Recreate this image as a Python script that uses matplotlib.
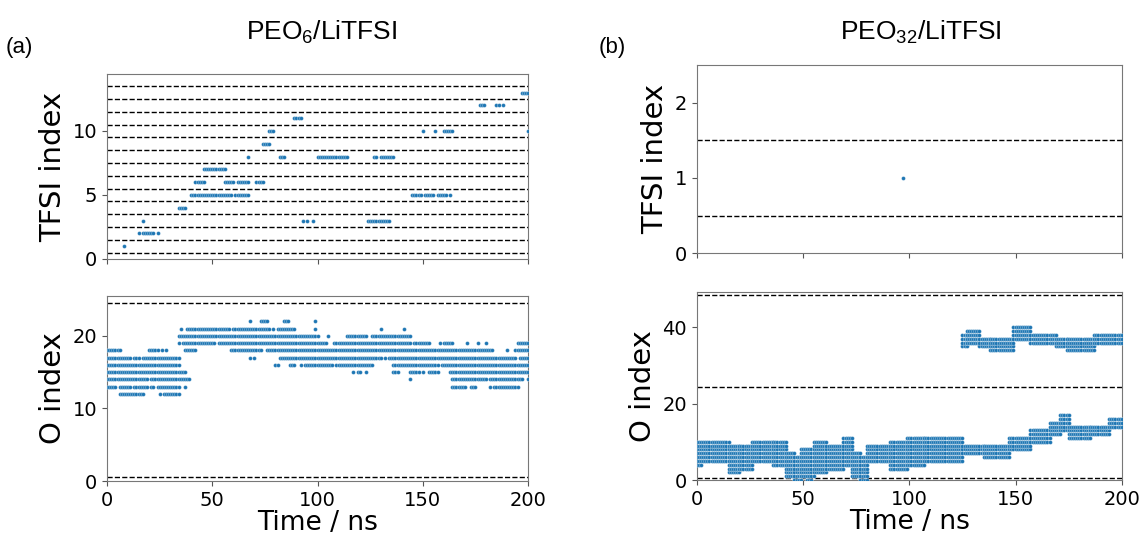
import numpy as np
import matplotlib
matplotlib.use("Agg")
import matplotlib.pyplot as plt

plt.rcParams['mathtext.fontset'] = 'custom'
plt.rcParams['mathtext.rm'] = 'Liberation Sans'
plt.rcParams['mathtext.it'] = 'Liberation Sans'

# runs: (t_start ns, t_end ns, index)
tfsi6_runs = [
    (8, 8, 1),
    (15, 15, 2), (17, 22, 2), (24, 24, 2),
    (17, 17, 3), (93, 93, 3), (95, 95, 3), (98, 98, 3), (124, 134, 3),
    (34, 37, 4),
    (40, 59, 5), (61, 67, 5), (145, 149, 5), (151, 155, 5), (157, 161, 5), (163, 163, 5),
    (42, 46, 6), (56, 60, 6), (62, 67, 6), (71, 74, 6),
    (46, 56, 7),
    (67, 67, 8), (82, 84, 8), (100, 114, 8), (127, 128, 8), (130, 136, 8),
    (74, 77, 9),
    (77, 79, 10), (150, 150, 10), (156, 156, 10), (160, 164, 10), (200, 200, 10),
    (89, 92, 11),
    (177, 179, 12), (185, 186, 12), (188, 188, 12),
    (197, 200, 13),
]

o6_runs = [
    (68, 68, 22), (73, 76, 22), (84, 86, 22), (99, 99, 22),
    (35, 35, 21), (38, 58, 21), (60, 77, 21), (79, 79, 21), (81, 89, 21), (99, 99, 21),
    (130, 130, 21), (141, 141, 21),
    (34, 100, 20), (105, 105, 20), (114, 123, 20), (126, 144, 20),
    (34, 34, 19), (36, 51, 19), (53, 104, 19), (108, 144, 19), (146, 153, 19), (158, 158, 19),
    (160, 164, 19), (171, 171, 19), (176, 176, 19), (180, 180, 19), (195, 200, 19),
    (0, 6, 18), (20, 24, 18), (26, 26, 18), (28, 28, 18), (37, 42, 18), (59, 73, 18),
    (76, 183, 18), (190, 190, 18), (194, 200, 18),
    (0, 11, 17), (13, 15, 17), (17, 34, 17), (68, 68, 17), (70, 70, 17), (82, 130, 17),
    (132, 132, 17), (134, 194, 17), (196, 200, 17),
    (0, 34, 16), (80, 81, 16), (87, 89, 16), (92, 92, 16), (94, 107, 16), (109, 126, 16),
    (136, 157, 16), (159, 200, 16),
    (0, 37, 15), (117, 117, 15), (119, 120, 15), (123, 123, 15), (136, 138, 15),
    (144, 148, 15), (150, 150, 15), (153, 157, 15), (163, 200, 15),
    (0, 19, 14), (21, 39, 14), (144, 144, 14), (164, 180, 14), (182, 197, 14), (200, 200, 14),
    (0, 4, 13), (6, 11, 13), (13, 19, 13), (21, 22, 13), (24, 34, 13), (37, 37, 13),
    (164, 170, 13), (173, 175, 13), (182, 182, 13), (184, 195, 13),
    (6, 17, 12), (25, 25, 12), (27, 34, 12),
]

# PEO32: one TFSI contact, O indices as bands (t_start, t_end, lowest, highest)
tfsi32_t = [97]
tfsi32_idx = [1]

o32_bands = [
    (0, 15, 5, 10), (0, 2, 4, 4), (15, 20, 2, 9), (20, 26, 3, 9), (26, 36, 5, 10),
    (36, 42, 4, 10), (42, 46, 1, 7), (46, 49, 0, 6), (49, 55, 1, 8), (52, 54, 0, 0),
    (55, 61, 2, 10), (61, 69, 3, 9), (69, 73, 4, 11), (73, 77, 1, 7), (77, 80, 0, 6),
    (80, 91, 5, 9), (91, 99, 3, 10), (99, 107, 4, 11), (107, 125, 5, 11), (125, 135, 7, 9),
    (135, 147, 6, 9), (147, 157, 8, 11), (157, 166, 10, 13), (166, 171, 12, 15),
    (171, 175, 13, 17), (175, 185, 11, 14), (185, 194, 12, 14), (194, 200, 14, 16),
    (125, 127, 35, 38), (127, 133, 36, 39), (133, 138, 35, 37), (138, 149, 34, 37),
    (149, 157, 37, 40), (157, 169, 36, 38), (169, 174, 35, 37), (174, 187, 34, 37),
    (187, 200, 36, 38),
]

tfsi6_sep = np.arange(0.5, 14, 1.0)
o6_sep = [0.5, 24.5]
tfsi32_sep = [0.5, 1.5]
o32_sep = [0.5, 24.5, 48.5]

step = 1.0
blue = '#1f77b4'


def expand_runs(runs):
    ts, ys = [], []
    for t0, t1, y in runs:
        t = np.arange(t0, t1 + step / 2, step)
        ts.extend(t)
        ys.extend([y] * len(t))
    return ts, ys


def expand_bands(bands):
    ts, ys = [], []
    for t0, t1, lo, hi in bands:
        for y in range(lo, hi + 1):
            t = np.arange(t0, t1 + step / 2, step)
            ts.extend(t)
            ys.extend([y] * len(t))
    return ts, ys


def style(ax, seps, ylim):
    for y in seps:
        ax.axhline(y, color='black', ls='--', lw=1.0, zorder=1)
    ax.set_xlim(0, 200)
    ax.set_ylim(*ylim)
    ax.tick_params(labelsize=14, color='#555555')
    for s in ax.spines.values():
        s.set_color('#777777')


fig = plt.figure(figsize=(11.42, 5.38), dpi=100)
ax1 = fig.add_axes([0.0937, 0.5186, 0.3687, 0.3439])
ax2 = fig.add_axes([0.0937, 0.1059, 0.3687, 0.3439])
ax3 = fig.add_axes([0.6101, 0.5292, 0.3722, 0.3500])
ax4 = fig.add_axes([0.6101, 0.1078, 0.3722, 0.3489])

ms = 8

t, y = expand_runs(tfsi6_runs)
ax1.scatter(t, y, s=ms, color=blue, edgecolors='white', linewidths=0.2, zorder=3)
style(ax1, tfsi6_sep, (0, 14.45))
ax1.set_yticks([0, 5, 10])
ax1.set_xticklabels([])
ax1.set_ylabel('TFSI index', fontsize=21)

t, y = expand_runs(o6_runs)
ax2.scatter(t, y, s=ms, color=blue, edgecolors='white', linewidths=0.2, zorder=3)
style(ax2, o6_sep, (0, 25.5))
ax2.set_yticks([0, 10, 20])
ax2.set_ylabel('O index', fontsize=21)
ax2.set_xlabel('Time / ns', fontsize=19, labelpad=0)

ax3.scatter(tfsi32_t, tfsi32_idx, s=ms, color=blue, edgecolors='white', linewidths=0.2, zorder=3)
style(ax3, tfsi32_sep, (0, 2.5))
ax3.set_yticks([0, 1, 2])
ax3.set_xticklabels([])
ax3.set_ylabel('TFSI index', fontsize=21)

t, y = expand_bands(o32_bands)
ax4.scatter(t, y, s=ms, color=blue, edgecolors='white', linewidths=0.2, zorder=3)
style(ax4, o32_sep, (0, 49.2))
ax4.set_yticks([0, 20, 40])
ax4.set_ylabel('O index', fontsize=21)
ax4.set_xlabel('Time / ns', fontsize=19, labelpad=0)

for ax in (ax1, ax2, ax3, ax4):
    ax.set_xticks([0, 50, 100, 150, 200])

fig.text(322 / 1142, 1 - 32 / 538, r'PEO$_6$/LiTFSI', fontsize=19,
         family='Liberation Sans', ha='center', va='center')
fig.text(921 / 1142, 1 - 32 / 538, r'PEO$_{32}$/LiTFSI', fontsize=19,
         family='Liberation Sans', ha='center', va='center')
fig.text(19 / 1142, 1 - 48 / 538, '(a)', fontsize=16,
         family='Liberation Sans', ha='center', va='center')
fig.text(612 / 1142, 1 - 48 / 538, '(b)', fontsize=16,
         family='Liberation Sans', ha='center', va='center')

fig.savefig('out.png', dpi=100)
